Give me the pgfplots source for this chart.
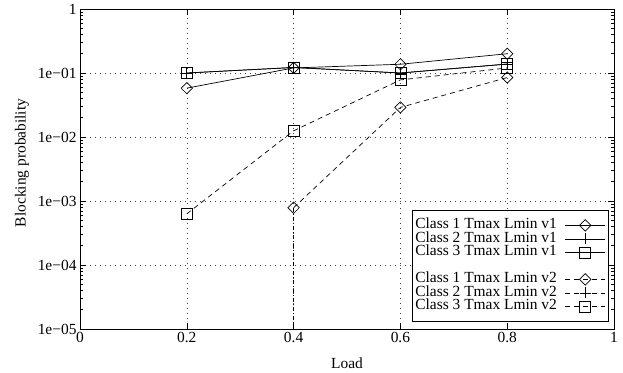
\documentclass[border=0pt]{standalone}
\usepackage{fontspec}
\setmainfont{Liberation Serif}
\usepackage{pgfplots}
\pgfplotsset{compat=1.18}
\newcommand{\ff}{\fontsize{15.5}{16}\selectfont}
\begin{document}
\begin{tikzpicture}
\begin{axis}[
  scale only axis, width=534bp, height=320bp,
  xmin=0, xmax=1, ymode=log, ymin=1e-5, ymax=1,
  xtick={0,0.2,0.4,0.6,0.8,1},
  xticklabels={0,0.2,0.4,0.6,0.8,1},
  ytick={1e-5,1e-4,1e-3,1e-2,1e-1,1},
  yticklabels={1e−05,1e−04,1e−03,1e−02,1e−01,1},
  tick label style={font=\ff},
  label style={font=\ff},
  xlabel={Load}, ylabel={Blocking probability},
  xlabel style={at={(axis description cs:0.5,-0.106)}, anchor=center},
  ylabel style={at={(axis description cs:-0.1086,0.519)}, anchor=center},
  axis line style={line width=0.8pt},
  major tick length=6bp, minor tick length=3bp,
  every tick/.style={black, line width=0.6pt},
  xmajorgrids, ymajorgrids,
  major grid style={black!75, line width=0.6pt, dash pattern=on 1bp off 4bp},
  legend plot pos=right,
  legend cell align=right,
  legend image code/.code={\draw[mark repeat=2,mark phase=2,#1] plot coordinates {(0bp,0bp)(20bp,0bp)(40bp,0bp)};},
  legend style={at={(rel axis cs:1,0)}, anchor=south east, xshift=-5bp, yshift=7bp,
    draw=black, line width=0.8pt, fill=white, font=\ff, inner xsep=3bp, inner ysep=8.5bp,
    row sep=0pt,
    nodes={inner sep=0pt, text height=10.1bp, text depth=3.4bp},
    /tikz/every odd column/.append style={column sep=8bp}},
]
\addplot[black, line width=0.7pt, mark=square, mark size=4bp, mark options={rotate=45, solid, line width=0.7pt}]
  coordinates {(0.2,0.058)(0.4,0.12)(0.6,0.137)(0.8,0.2)};
\addlegendentry{Class 1 Tmax Lmin v1}
\addplot[black, line width=0.7pt, mark=+, mark size=5.5bp, mark options={solid, line width=0.7pt}]
  coordinates {(0.2,0.1)(0.4,0.122)(0.6,0.1)(0.8,0.138)};
\addlegendentry{Class 2 Tmax Lmin v1}
\addplot[black, line width=0.7pt, mark=square, mark size=5.5bp, mark options={solid, line width=0.7pt}]
  coordinates {(0.2,0.1)(0.4,0.122)(0.6,0.1)(0.8,0.138)};
\addlegendentry{Class 3 Tmax Lmin v1}
\addlegendimage{empty legend}
\addlegendentry{\rule{0pt}{6bp}}
\addplot[black, line width=0.7pt, dash pattern=on 5bp off 4bp, mark=square, mark size=4bp, mark options={rotate=45, solid, line width=0.7pt}]
  coordinates {(0.4,7.85e-4)(0.6,0.029)(0.8,0.085)};
\addlegendentry{Class 1 Tmax Lmin v2}
\addplot[black, line width=0.7pt, dash pattern=on 4bp off 2bp on 1bp off 2bp, forget plot]
  coordinates {(0.4,1e-5)(0.4,7.85e-4)};
\addlegendimage{black, line width=0.7pt, dash pattern=on 5bp off 4bp, mark=+, mark size=5.5bp, mark options={solid, line width=0.7pt}}
\addlegendentry{Class 2 Tmax Lmin v2}
\addplot[black, line width=0.7pt, dash pattern=on 5bp off 4bp, mark=square, mark size=5.5bp, mark options={solid, line width=0.7pt}]
  coordinates {(0.2,6.3e-4)(0.4,0.0125)(0.6,0.078)(0.8,0.12)};
\addlegendentry{Class 3 Tmax Lmin v2}
\coordinate (sw) at (rel axis cs:0,0);
\coordinate (ne) at (rel axis cs:1,1);
\end{axis}
\pgfresetboundingbox
\path[use as bounding box] ([shift={(-80bp,-44bp)}]sw) rectangle ([shift={(9bp,9bp)}]ne);
\end{tikzpicture}
\end{document}
